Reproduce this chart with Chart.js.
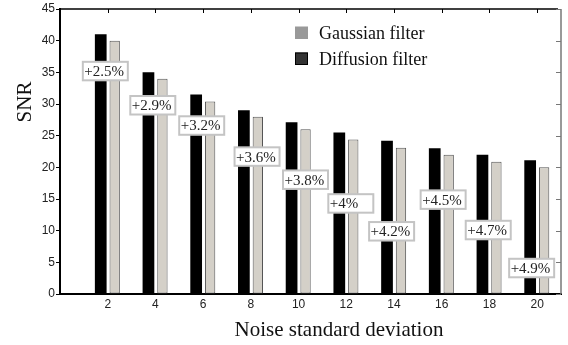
<!DOCTYPE html>
<html><head><meta charset="utf-8">
<script src="https://cdn.jsdelivr.net/npm/chart.js@4"></script>
<style>html,body{margin:0;padding:0;background:#fff}</style>
</head><body>
<canvas id="c" width="568" height="345"></canvas>
<script>
// ---- data ----
const noiseStd = [2, 4, 6, 8, 10, 12, 14, 16, 18, 20];
const diffusionSNR = [41.0, 35.0, 31.5, 29.0, 27.1, 25.5, 24.2, 23.0, 22.0, 21.1];
const gaussianSNR = [40.0, 34.0, 30.4, 28.0, 26.0, 24.4, 23.1, 22.0, 20.9, 20.0];
const gainLabels = ['+2.5%', '+2.9%', '+3.2%', '+3.6%', '+3.8%', '+4%', '+4.2%', '+4.5%', '+4.7%', '+4.9%'];
const gainLabelX = [1.90, 3.89, 5.94, 8.26, 10.29, 12.19, 13.90, 16.06, 17.95, 19.77];
const gainLabelY = [35.2, 29.8, 26.6, 21.7, 18.05, 14.3, 9.9, 14.9, 10.1, 4.1];
const seriesNames = ['Diffusion filter', 'Gaussian filter'];
const xTickValues = [2, 4, 6, 8, 10, 12, 14, 16, 18, 20];
const yTickValues = [0, 5, 10, 15, 20, 25, 30, 35, 40, 45];
const xTitle = 'Noise standard deviation';
const yTitle = 'SNR';

const SERIF = '"Liberation Serif", "Times New Roman", serif';
const SANS = '"Liberation Sans", Arial, sans-serif';

const decor = {
  id: 'decor',
  afterDraw(chart) {
    const ctx = chart.ctx, a = chart.chartArea, xs = chart.scales.x, ys = chart.scales.y;
    ctx.save();
    // top border + inward ticks
    ctx.strokeStyle = '#000'; ctx.lineWidth = 1.5;
    ctx.beginPath(); ctx.moveTo(a.left, a.top); ctx.lineTo(a.right - 3, a.top); ctx.stroke();
    ctx.lineWidth = 1;
    xTickValues.forEach(v => {
      const px = Math.round(xs.getPixelForValue(v)) + 0.5;
      ctx.beginPath(); ctx.moveTo(px, a.top); ctx.lineTo(px, a.top + 4); ctx.stroke();
    });
    // right border + inward ticks
    ctx.strokeStyle = '#777'; ctx.lineWidth = 1.5;
    ctx.beginPath(); ctx.moveTo(a.right, a.top); ctx.lineTo(a.right, a.bottom); ctx.stroke();
    ctx.lineWidth = 1;
    yTickValues.forEach(v => {
      const py = Math.round(ys.getPixelForValue(v)) + 0.5;
      ctx.beginPath(); ctx.moveTo(a.right, py); ctx.lineTo(a.right - 5, py); ctx.stroke();
    });
    // gain labels
    ctx.font = '15px ' + SERIF;
    ctx.textBaseline = 'middle'; ctx.textAlign = 'left';
    gainLabels.forEach((t, i) => {
      const cx = xs.getPixelForValue(gainLabelX[i]);
      const cy = ys.getPixelForValue(gainLabelY[i]);
      const w = 45, h = 18.5;
      const l = cx - w / 2, tp = cy - h / 2;
      ctx.fillStyle = '#fff'; ctx.fillRect(l, tp, w, h);
      ctx.strokeStyle = '#c4c4c4'; ctx.lineWidth = 2; ctx.strokeRect(l, tp, w, h);
      ctx.fillStyle = '#222'; ctx.fillText(t, l + 1.5, cy + 1);
    });
    // legend (Gaussian first)
    const ds = chart.data.datasets;
    const order = [1, 0];
    ctx.font = '18px ' + SERIF; ctx.textBaseline = 'alphabetic';
    const legColors = ['#333', '#999'];
    order.forEach((di, k) => {
      const base = 39 + k * 26;
      ctx.fillStyle = legColors[di];
      ctx.fillRect(295, base - 12.5, 13, 12.5);
      if (di === 0) { ctx.strokeStyle = '#000'; ctx.lineWidth = 1; ctx.strokeRect(295.5, base - 12, 12, 11.5); }
      ctx.fillStyle = '#111';
      ctx.fillText(ds[di].label, 319, base);
    });
    // axis titles
    ctx.font = '21px ' + SERIF; ctx.fillStyle = '#111';
    ctx.textAlign = 'center'; ctx.textBaseline = 'alphabetic';
    ctx.fillText(xTitle, 339, 336);
    ctx.save();
    ctx.translate(31, 102); ctx.rotate(-Math.PI / 2);
    ctx.textBaseline = 'alphabetic';
    ctx.fillText(yTitle, 0, 0);
    ctx.restore();
    ctx.restore();
  }
};

new Chart(document.getElementById('c'), {
  type: 'bar',
  data: {
    datasets: [
      { label: seriesNames[0], data: noiseStd.map((x, i) => ({ x, y: diffusionSNR[i] })),
        backgroundColor: '#000', borderWidth: 0, barPercentage: 0.84, categoryPercentage: 0.585 },
      { label: seriesNames[1], data: noiseStd.map((x, i) => ({ x, y: gaussianSNR[i] })),
        backgroundColor: '#d4d0c8', borderColor: '#555', borderWidth: 1, borderSkipped: false,
        barPercentage: 0.74, categoryPercentage: 0.585 }
    ]
  },
  options: {
    responsive: false, animation: false, devicePixelRatio: 1,
    layout: { padding: { top: 9, right: 7, left: 0, bottom: 0 } },
    plugins: { legend: { display: false }, tooltip: { enabled: false } },
    scales: {
      x: {
        type: 'linear', min: 0, max: 21, offset: false,
        grid: { display: false, drawTicks: false, tickLength: 0 },
        border: { color: '#000', width: 2 },
        ticks: { stepSize: 2, includeBounds: false, autoSkip: false, maxRotation: 0,
          callback: v => (v === 0 ? '' : v), color: '#222', font: { family: SANS, size: 12 }, padding: 3 },
        afterFit: s => { s.height = 51; }
      },
      y: {
        min: 0, max: 45,
        grid: { drawOnChartArea: false, tickLength: 4, color: '#000' },
        border: { color: '#000', width: 2 },
        ticks: { stepSize: 5, color: '#222', font: { family: SANS, size: 12 }, padding: 1 },
        afterFit: s => { s.width = 60; }
      }
    }
  },
  plugins: [decor]
});
</script>
</body></html>
